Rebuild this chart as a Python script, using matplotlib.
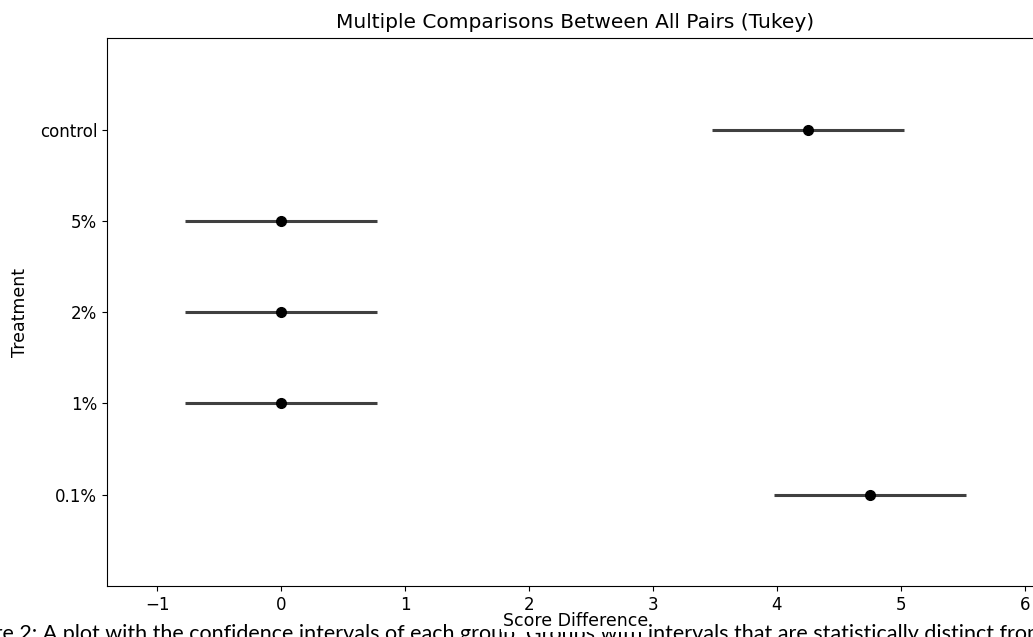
import matplotlib
matplotlib.use("Agg")
import matplotlib.pyplot as plt
import numpy as np

# Tukey HSD simultaneous intervals (group means vs. score difference)
groups = ["0.1%", "1%", "2%", "5%", "control"]
means = [4.75, 0.0, 0.0, 0.0, 4.25]
halfwidths = [0.775, 0.775, 0.775, 0.775, 0.775]

caption = ("Figure 2: A plot with the confidence intervals of each group. Groups with "
           "intervals that are statistically distinct from control are shown")

fig = plt.figure(figsize=(10.33, 6.37), dpi=100)
ax = fig.add_axes([0.1036, 0.080, 0.907, 0.860])

ypos = np.arange(len(groups))
ax.errorbar(means, ypos, xerr=halfwidths, marker="o", linestyle="None",
            color="k", ecolor="0.25", elinewidth=2.2, markersize=7)

lower = np.array(means) - np.array(halfwidths)
upper = np.array(means) + np.array(halfwidths)
r = upper.max() - lower.min()
ax.set_xlim(lower.min() - r / 10.0, upper.max() + r / 10.0)
ax.set_ylim(-1, len(groups))
ax.set_yticks(ypos)
ax.set_yticklabels(groups)
ax.tick_params(labelsize=12)

ax.set_title("Multiple Comparisons Between All Pairs (Tukey)", fontsize=14.5, pad=7)
ax.set_xlabel("Score Difference", fontsize=12.5, labelpad=-1,
              bbox=dict(facecolor="white", edgecolor="none", pad=1))
ax.set_ylabel("Treatment", fontsize=12.5, labelpad=8)

# figure caption from the source document, cut off at the bottom edge
fig.text(-0.045, -0.011, caption, fontsize=15.5, family="Lato",
         ha="left", va="bottom", color="black", zorder=-1)

fig.savefig("out.png", dpi=100)
